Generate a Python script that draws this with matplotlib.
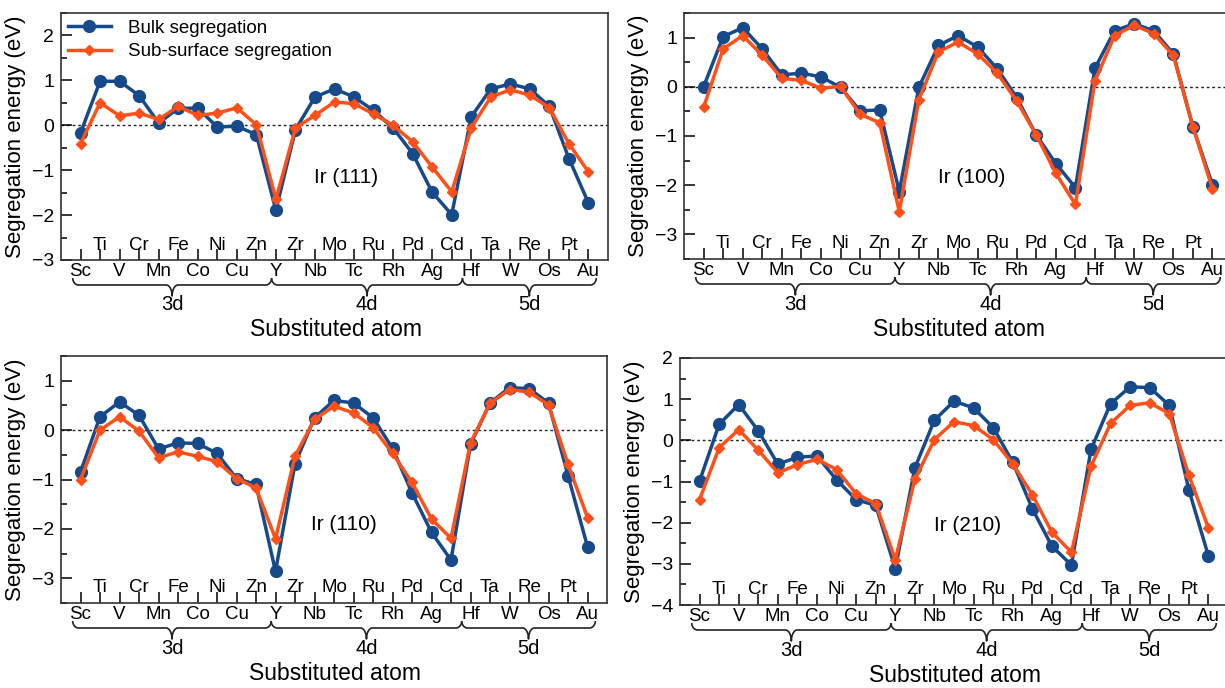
import numpy as np
import matplotlib
matplotlib.use("Agg")
import matplotlib.pyplot as plt
from matplotlib.ticker import MultipleLocator
from matplotlib.transforms import blended_transform_factory

plt.rcParams["font.family"] = ["Liberation Sans", "DejaVu Sans"]

# ---------- data ----------
elements = ["Sc", "Ti", "V", "Cr", "Mn", "Fe", "Co", "Ni", "Cu", "Zn",
            "Y", "Zr", "Nb", "Mo", "Tc", "Ru", "Rh", "Pd", "Ag", "Cd",
            "Hf", "Ta", "W", "Re", "Os", "Pt", "Au"]
group_names = ["3d", "4d", "5d"]
group_edges = [-0.4, 9.78, 19.55, 26.4]

bulk_111 = [-0.17, 0.98, 0.98, 0.66, 0.05, 0.38, 0.38, -0.04, -0.02, -0.21,
            -1.89, -0.10, 0.63, 0.81, 0.63, 0.33, -0.06, -0.63, -1.49, -1.99,
            0.19, 0.81, 0.92, 0.81, 0.42, -0.74, -1.73]
sub_111 = [-0.41, 0.50, 0.21, 0.27, 0.13, 0.42, 0.22, 0.27, 0.39, 0.01,
           -1.65, -0.06, 0.22, 0.52, 0.48, 0.25, 0.00, -0.37, -0.93, -1.48,
           -0.06, 0.63, 0.79, 0.67, 0.39, -0.41, -1.04]

bulk_100 = [0.00, 1.02, 1.20, 0.77, 0.24, 0.28, 0.20, -0.01, -0.49, -0.47,
            -2.13, -0.01, 0.84, 1.04, 0.81, 0.37, -0.22, -0.98, -1.56, -2.05,
            0.38, 1.14, 1.28, 1.14, 0.67, -0.81, -1.99]
sub_100 = [-0.42, 0.77, 1.04, 0.64, 0.17, 0.13, -0.03, 0.01, -0.56, -0.73,
           -2.54, -0.26, 0.71, 0.91, 0.67, 0.28, -0.29, -0.98, -1.76, -2.39,
           0.12, 1.04, 1.25, 1.08, 0.64, -0.81, -2.07]

bulk_110 = [-0.85, 0.27, 0.57, 0.30, -0.38, -0.26, -0.27, -0.47, -0.98, -1.10,
            -2.86, -0.68, 0.25, 0.60, 0.55, 0.25, -0.37, -1.27, -2.07, -2.63,
            -0.29, 0.55, 0.86, 0.84, 0.55, -0.92, -2.36]
sub_110 = [-1.00, 0.00, 0.27, -0.02, -0.56, -0.44, -0.53, -0.64, -0.98, -1.17,
           -2.20, -0.53, 0.22, 0.48, 0.35, 0.05, -0.47, -1.06, -1.80, -2.19,
           -0.26, 0.54, 0.82, 0.77, 0.51, -0.69, -1.77]

bulk_210 = [-0.99, 0.39, 0.87, 0.23, -0.58, -0.41, -0.38, -0.96, -1.44, -1.58,
            -3.12, -0.67, 0.49, 0.95, 0.79, 0.31, -0.53, -1.66, -2.57, -3.03,
            -0.22, 0.89, 1.30, 1.28, 0.85, -1.20, -2.81]
sub_210 = [-1.44, -0.18, 0.26, -0.24, -0.79, -0.59, -0.46, -0.71, -1.30, -1.54,
           -2.90, -0.95, 0.02, 0.45, 0.36, 0.02, -0.57, -1.32, -2.23, -2.72,
           -0.63, 0.41, 0.85, 0.91, 0.65, -0.85, -2.13]

BLUE = "#174a8b"
ORANGE = "#ff5019"
W, H = 1225, 688

# (title, bulk, sub, ylim, axes rect in px [left, top, right, bottom], label pos)
panels = [
    ("Ir (111)", bulk_111, sub_111, (-3, 2.5), (61, 13, 608, 260), (13.6, -1.16)),
    ("Ir (100)", bulk_100, sub_100, (-3.5, 1.5), (684, 13, 1232, 259), (13.7, -1.84)),
    ("Ir (110)", bulk_110, sub_110, (-3.5, 1.5), (61, 356, 607, 603), (13.5, -1.92)),
    ("Ir (210)", bulk_210, sub_210, (-4, 2), (680, 358, 1228, 605), (13.7, -2.07)),
]


def brace(ax, x0, x1, hpx, label):
    """curly brace under the x axis, from x0 to x1 (data units)."""
    tr = blended_transform_factory(ax.transData, ax.transAxes)
    f = lambda px: -px / hpx
    yb, up, dn, r = 25, 7, 11, 0.3
    xm = 0.5 * (x0 + x1)
    t = np.linspace(0, np.pi / 2, 12)
    xs = np.concatenate([x0 + r * (1 - np.cos(t)),
                         xm - r + r * np.sin(t),
                         (xm + r - r * np.sin(t))[::-1],
                         (x1 - r * (1 - np.cos(t)))[::-1]])
    ys = np.concatenate([yb - up * (1 - np.sin(t)),
                         yb + dn * (1 - np.cos(t)),
                         (yb + dn * (1 - np.cos(t)))[::-1],
                         (yb - up * (1 - np.sin(t)))[::-1]])
    ax.plot(xs, [f(v) for v in ys], color="#222222", lw=1.2, transform=tr,
            clip_on=False, solid_capstyle="butt")
    ax.text(xm, f(45), label, transform=tr, ha="center", va="center", fontsize=14.5)


fig = plt.figure(figsize=(W / 100, H / 100), dpi=100)
x = np.arange(len(elements))

for k, (title, bulk, sub, ylim, (l, t_, r_, b), lab) in enumerate(panels):
    ax = fig.add_axes([l / W, 1 - b / H, (r_ - l) / W, (b - t_) / H])
    hpx = b - t_
    ax.axhline(0, color="#222222", lw=1.0, ls=(0, (2, 2)), zorder=1)
    ax.plot(x, bulk, "-o", color=BLUE, lw=2.5, ms=8.5, label="Bulk segregation", zorder=3)
    ax.plot(x, sub, "-D", color=ORANGE, lw=2.5, ms=5.5, label="Sub-surface segregation", zorder=4)
    ax.set_xlim(-1, 27)
    ax.set_ylim(*ylim)
    ax.yaxis.set_major_locator(MultipleLocator(1))
    ax.yaxis.set_minor_locator(MultipleLocator(0.5))
    ax.tick_params(axis="y", which="major", direction="in", length=8, width=1.1,
                   labelsize=14, pad=5)
    ax.tick_params(axis="y", which="minor", direction="in", length=4, width=1.1)
    ax.set_xticks(x)
    ax.set_xticklabels([e if i % 2 == 0 else "" for i, e in enumerate(elements)])
    ax.tick_params(axis="x", direction="in", length=8, width=1.1, labelsize=13.5, pad=2)
    tr = blended_transform_factory(ax.transData, ax.transAxes)
    for i, e in enumerate(elements):
        if i % 2 == 1:
            ax.text(i, 15 / hpx, e, transform=tr, ha="center", va="center", fontsize=13.5)
    for sp in ax.spines.values():
        sp.set_linewidth(1.2)
        sp.set_color("#333333")
    ax.set_ylabel("Segregation energy (eV)", fontsize=16, labelpad=4)
    ax.text(lab[0], lab[1], title, ha="center", va="center", fontsize=15)
    for g, name in enumerate(group_names):
        brace(ax, group_edges[g], group_edges[g + 1], hpx, name)
    ax.text(0.5 * 26 / 28 + 0.5 / 28 + 0.02, -70 / hpx, "Substituted atom",
            transform=ax.transAxes, ha="center", va="center", fontsize=16.5)
    if k == 0:
        ax.legend(loc="upper left", frameon=False, fontsize=13.5, handlelength=2.3,
                  borderaxespad=0.15, labelspacing=0.35, borderpad=0.2, handletextpad=0.9)

fig.savefig("out.png", dpi=100)
